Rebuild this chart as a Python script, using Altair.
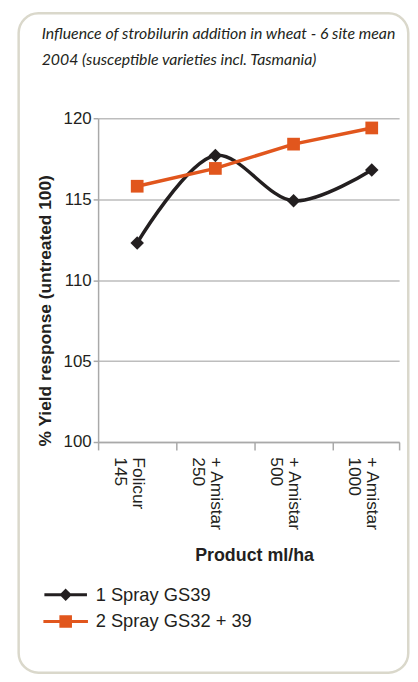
import altair as alt
import pandas as pd

# ---- data ----
categories = ["Folicur 145", "+ Amistar 250", "+ Amistar 500", "+ Amistar 1000"]
series_names = ["1 Spray GS39", "2 Spray GS32 + 39"]
spray1 = [112.3, 117.7, 114.9, 116.8]
spray2 = [115.8, 116.9, 118.4, 119.4]
y_ticks = [100, 105, 110, 115, 120]
title_lines = [
    "Influence of strobilurin addition in wheat - 6 site mean",
    "2004 (susceptible varieties incl. Tasmania)",
]
x_title = "Product ml/ha"
y_title = "% Yield response (untreated 100)"
colors = ["#231F20", "#E1561D"]

rows = []
for s, vals in zip(series_names, [spray1, spray2]):
    for i, (c, v) in enumerate(zip(categories, vals)):
        rows.append({"series": s, "category": c, "pos": i + 0.5, "value": v})
df = pd.DataFrame(rows)

parts = []
for i, c in enumerate(categories):
    a, b = c.rsplit(" ", 1)
    parts.append(f"datum.value == {i + 0.5} ? ['{a}', '{b}']")
label_expr = " : ".join(parts) + " : ''"
x_max = 3.85
x_values = [0, 0.5, 1, 1.5, 2, 2.5, 3, 3.5, x_max]

FONT = "Liberation Sans, Arial, sans-serif"
TXT = "#231F20"
GRID = "#BDBDBD"
AX = "#A9A9A9"

x_enc = alt.X(
    "pos:Q",
    scale=alt.Scale(domain=[0, x_max], nice=False, zero=False),
    axis=alt.Axis(
        title=x_title,
        values=x_values,
        grid=False,
        labelExpr=label_expr,
        labelAngle=90,
        labelFontSize=17.5,
        labelLineHeight=18,
        labelPadding=7,
        labelOverlap=False,
        labelFlush=False,
        labelColor=TXT,
        tickSize=8,
        tickWidth=1.5,
        tickColor=AX,
        tickOpacity={"condition": {"test": "datum.value % 1 == 0.5", "value": 0}, "value": 1},
        domainColor=AX,
        domainWidth=1.5,
        titleFontSize=18,
        titleFontWeight="bold",
        titleColor=TXT,
        titleX=157.5,
        titleY=115,
        titleBaseline="middle",
    ),
)
y_enc = alt.Y(
    "value:Q",
    scale=alt.Scale(domain=[100, 120], nice=False, zero=False),
    axis=alt.Axis(
        title=y_title,
        values=y_ticks,
        grid=True,
        gridColor=GRID,
        gridWidth=1.5,
        domainColor=AX,
        domainWidth=1.5,
        tickColor=AX,
        tickWidth=1.5,
        tickSize=5,
        labelFontSize=17,
        labelPadding=2,
        labelColor=TXT,
        titleFontSize=17.5,
        titleFontWeight="bold",
        titleColor=TXT,
        titleX=-53,
        titleY=194,
        titleAlign="center",
        titleBaseline="middle",
    ),
)

base = alt.Chart(df)
s1 = base.transform_filter(alt.datum.series == series_names[0])
s2 = base.transform_filter(alt.datum.series == series_names[1])

line1 = s1.mark_line(interpolate="catmull-rom", strokeWidth=3.5, color=colors[0]).encode(x=x_enc, y=y_enc)
line2 = s2.mark_line(strokeWidth=3.5, color=colors[1]).encode(x=x_enc, y=y_enc)
pts1 = s1.mark_point(shape="diamond", filled=True, size=185, opacity=1, color=colors[0]).encode(x=x_enc, y=y_enc)
pts2 = s2.mark_point(shape="square", filled=True, size=165, opacity=1, color=colors[1]).encode(x=x_enc, y=y_enc)

# legend carrier: draws nothing, its scales have explicit domains
diamond_path = "M-4.3,0L4.3,0M0,-0.8L0.8,0L0,0.8L-0.8,0Z"
square_path = "M-4.5,0L4.5,0M-0.95,-0.95L0.95,-0.95L0.95,0.95L-0.95,0.95Z"
leg = alt.Legend(
    orient="none",
    legendX=-42,
    legendY=472,
    title=None,
    labelFontSize=18.5,
    labelFont=FONT,
    labelColor=TXT,
    labelOffset=21,
    rowPadding=5,
    symbolStrokeWidth=3.2,
    padding=0,
    direction="vertical",
)
legend_layer = base.transform_filter("false").mark_point(
    filled=True, size=100, opacity=1, strokeWidth=3.2
).encode(
    x=x_enc,
    y=y_enc,
    color=alt.Color("series:N", scale=alt.Scale(domain=series_names, range=colors), legend=leg),
    stroke=alt.Stroke("series:N", scale=alt.Scale(domain=series_names, range=colors), legend=leg),
    shape=alt.Shape("series:N", scale=alt.Scale(domain=series_names, range=[diamond_path, square_path]), legend=leg),
)

frame = alt.Chart(pd.DataFrame({"a": [0]})).mark_rect(
    fill="transparent", stroke="#DAD8CB", strokeWidth=2.5, cornerRadius=20
).encode(
    x=alt.value(-80.25), x2=alt.value(313.25), y=alt.value(-106), y2=alt.value(560)
)

chart = alt.layer(frame, line1, line2, pts1, pts2, legend_layer).properties(
    width=304,
    height=327,
    padding={"left": 9, "top": 0, "right": 0, "bottom": 0},
    title=alt.TitleParams(
        text=title_lines,
        anchor="start",
        frame="group",
        dx=-57,
        offset=-56,
        font="Lato",
        fontStyle="italic",
        fontWeight="normal",
        fontSize=16,
        lineHeight=26,
        color=TXT,
    ),
).configure_view(stroke=None).configure_axis(
    labelFont=FONT, titleFont=FONT
)

chart.save("out.html", embed_options={"renderer": "svg", "actions": False})
